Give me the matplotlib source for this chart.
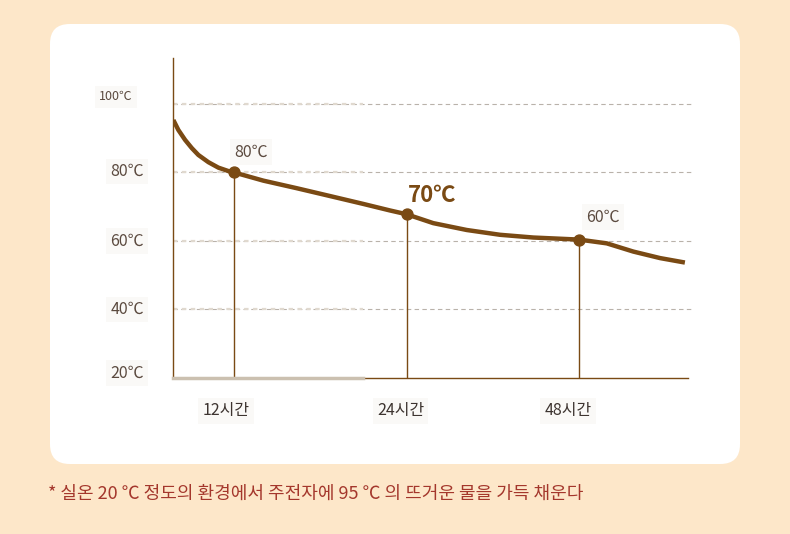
import matplotlib.pyplot as plt
import numpy as np
from matplotlib.patches import FancyBboxPatch
from matplotlib.transforms import offset_copy

plt.rcParams['font.family'] = ['Noto Sans CJK KR', 'DejaVu Sans']

# x is the tick index: 1 = 12h, 2 = 24h, 3 = 48h (evenly spaced in the chart)
curve_x = [0.648, 0.677, 0.716, 0.755, 0.793, 0.851, 0.909, 0.967, 1.0,
           1.170, 1.363, 1.557, 1.750, 1.904, 2.0, 2.155, 2.349, 2.542,
           2.735, 3.0, 3.161, 3.315, 3.470, 3.614]
curve_t = [95.3, 92.4, 89.5, 87.1, 85.1, 83.0, 81.4, 80.4, 80.0,
           77.6, 75.4, 73.1, 70.8, 68.9, 67.8, 65.2, 63.2, 61.8,
           61.0, 60.4, 59.3, 56.9, 55.0, 53.7]

point_x = [1, 2, 3]
point_t = [80, 67.8, 60.4]
point_labels = ['80℃', '70℃', '60℃']
hour_labels = ['12시간', '24시간', '48시간']

grid_t = [100, 80, 60, 40]
ytick_t = [100, 80, 60, 40, 20]
ytick_labels = ['100℃', '80℃', '60℃', '40℃', '20℃']

note = '* 실온 20 ℃ 정도의 환경에서 주전자에 95 ℃ 의 뜨거운 물을 가득 채운다'

W, H = 790, 534
BG = '#fde7c9'
BROWN = '#7a4a14'
TXT = '#5b4a3f'

fig = plt.figure(figsize=(W / 100, H / 100), dpi=100, facecolor=BG)

panel = FancyBboxPatch((50 / W, (H - 464) / H), 690 / W, 440 / H,
                       boxstyle='round,pad=0,rounding_size=0.025',
                       transform=fig.transFigure, facecolor='white',
                       edgecolor='none', mutation_aspect=W / H, zorder=-1)
fig.patches.append(panel)

ax = fig.add_axes([173 / W, (H - 378) / H, 520 / W, 320 / H])
ax.set_facecolor('none')
ax.set_xlim(0.646, 3.661)
ax.set_ylim(20, 113.4)
for s in ax.spines.values():
    s.set_visible(False)
ax.set_xticks([])
ax.set_yticks([])

# grid
for t in grid_t:
    ax.axhline(t, xmin=0, xmax=1, color='#b9b2aa', lw=0.8, ls=(0, (4, 3)), zorder=1)
    ax.plot([0.646, 1.75], [t, t], color='#e0d9cf', lw=1.6, ls=(0, (2, 2)), zorder=1)

# axes lines
ax.plot([0.646, 0.646], [20, 113.4], color=BROWN, lw=1.0, zorder=2, clip_on=False)
ax.plot([0.646, 3.63], [20, 20], color=BROWN, lw=1.0, zorder=2, clip_on=False)
ax.plot([0.646, 1.75], [20, 20], color='#cbc0b0', lw=2.5, zorder=3, clip_on=False)

# drop lines
for x, t in zip(point_x, point_t):
    ax.plot([x, x], [20, t], color=BROWN, lw=1.0, zorder=2)

ax.plot(curve_x, curve_t, color=BROWN, lw=3.2, solid_capstyle='butt',
        solid_joinstyle='round', zorder=4)
ax.scatter(point_x, point_t, s=62, color=BROWN, zorder=5)

# point labels
box = dict(facecolor='#faf9f7', edgecolor='none', pad=3)
ax.text(point_x[0] + 0.0, point_t[0] + 6.0, point_labels[0], fontsize=11.5,
        color=TXT, ha='left', va='center', bbox=box)
ax.text(point_x[1] + 0.01, point_t[1] + 5.6, point_labels[1], fontsize=16,
        color=BROWN, fontweight='bold', ha='left', va='center')
ax.text(point_x[2] + 0.04, point_t[2] + 6.6, point_labels[2], fontsize=11.5,
        color=TXT, ha='left', va='center', bbox=box)

# y labels
ylab_dx = [-57, -46, -46, -46, -46]
ylab_dy = [7, 1, 0, 0, 5]
for t, lab, dx, dy in zip(ytick_t, ytick_labels, ylab_dx, ylab_dy):
    tr = offset_copy(ax.transData, fig=fig, x=dx * 0.72, y=dy * 0.72, units='points')
    ax.text(0.646, t, lab, transform=tr, fontsize=9 if lab == '100℃' else 11.5,
            color=TXT, ha='center', va='center', clip_on=False, bbox=box)

# x labels
xlab_dx = [-8, -6, -11]
for x, lab, dx in zip(point_x, hour_labels, xlab_dx):
    tr = offset_copy(ax.transData, fig=fig, x=dx * 0.72, y=-33 * 0.72, units='points')
    ax.text(x, 20, lab, transform=tr, fontsize=11.5, color='#3d3430',
            ha='center', va='center', clip_on=False, bbox=box)

fig.text(48 / W, 1 - 494 / H, note, fontsize=13, color='#a4372c',
         ha='left', va='center')

fig.savefig('out.png', dpi=100, facecolor=BG)
